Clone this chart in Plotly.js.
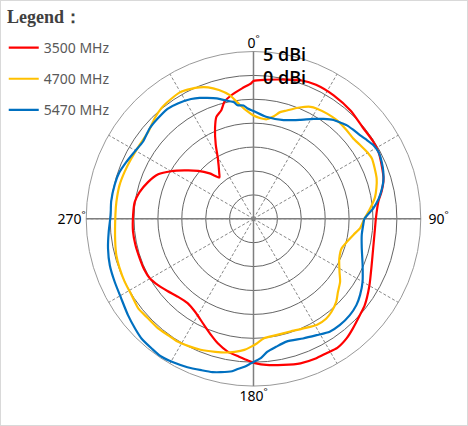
<!DOCTYPE html>
<html>
<head>
<meta charset="utf-8">
<script src="https://cdn.plot.ly/plotly-3.0.1.min.js"></script>
<style>
  body { margin: 0; background: #fff; }
  #chart { width: 468px; height: 426px; }
</style>
</head>
<body>
<div id="chart"></div>
<script>
// radiation pattern, gain in dBi, angle clockwise from top
const angles3500 = [0, 5, 13, 18.5, 25, 33, 42, 50, 57, 62, 67, 73, 78, 82, 90, 94.5, 104, 111, 120, 128,
  132, 138, 142, 147, 151.5, 156, 162, 168.5, 175, 179, 182, 186, 191, 196, 200, 205, 212, 218, 224, 230,
  235, 240, 245, 251, 257.5, 264, 272, 278, 283, 289, 295, 300, 305, 311, 316, 320.5, 323, 329.5, 333, 337,
  340, 343.5, 346, 350, 355, 359];
const gain3500 = [-1.15, -0.8, -0.1, 0.6, 0.95, 0.8, 0.4, -0.2, -0.2, -0.35, -0.9, -1.55, -2.6, -3.6, -4.4, -4.5, -4.2, -3.5, -2.0, -0.5,
  0.0, 1.0, 1.7, 2.2, 2.0, 2.0, 1.8, 1.2, 0.7, 0.25, -0.3, -1.0, -1.7, -2.9, -4.1, -5.5, -7.0, -7.6, -7.3, -6.5,
  -5.7, -5.0, -4.8, -4.8, -4.7, -4.65, -4.8, -4.9, -5.5, -6.6, -8.0, -10.1, -12.35, -14.7, -16.8, -18.8, -18.1, -15.3, -12.6, -9.4,
  -7.3, -6.3, -4.8, -3.7, -2.6, -1.65];

const angles4700 = [0, 4, 7.5, 11, 14, 17, 22.5, 27, 30, 35, 40, 46, 51, 55, 59, 63, 67, 72, 76, 80,
  85, 90, 95, 99, 104, 108.5, 115, 121.5, 126, 131, 135, 140, 144, 149, 155.5, 162, 169, 175, 178.5, 181,
  184, 188, 192, 196, 202, 207, 212, 216, 221, 227, 232, 238, 244, 250, 255, 261, 272, 277, 284, 290,
  296, 303, 310, 315.5, 320, 325, 330, 336, 341, 345, 349, 353, 356.5];
const gain4700 = [-8.4, -8.9, -9.0, -8.2, -7.0, -6.3, -4.8, -3.7, -3.4, -3.15, -3.0, -3.1, -3.2, -2.9, -2.5, -2.2, -2.5, -2.9, -3.5, -4.2,
  -5.5, -6.8, -7.6, -8.8, -9.9, -10.55, -10.2, -8.9, -7.6, -6.6, -5.5, -4.6, -4.15, -4.15, -4.8, -5.2, -5.2, -4.9, -3.9, -3.25,
  -2.5, -1.9, -1.4, -1.05, -0.45, -0.1, 0.2, 0.2, 0.4, 0.35, 0.55, 0.1, 0.0, -0.15, -0.3, -0.7, -1.1, -1.1, -1.1, -1.3,
  -1.5, -1.6, -1.4, -0.5, 0.1, 0.4, 0.6, 0.0, -0.9, -2.1, -3.6, -5.9, -7.4];

const angles5470 = [0, 7, 17, 25, 31, 35, 39, 42, 45, 48, 52, 55, 58.5, 62, 66, 70, 74, 77, 81, 85,
  90, 93, 98.5, 105, 113, 120, 125.5, 130, 135, 141, 146, 151.5, 157.5, 165, 170, 174, 177, 181, 183.5, 186,
  188, 192, 195, 199, 204, 209, 214, 218, 223, 227, 232.5, 239, 245.5, 252, 258.5, 265, 271.5, 277, 284, 289,
  294, 299.5, 305, 311, 316, 322, 327, 332.5, 336, 339, 343, 348, 350.5, 352, 355, 357];
const gain5470 = [-7.45, -8.5, -8.4, -7.15, -5.6, -4.5, -3.4, -2.9, -2.35, -2.05, -1.65, -1.15, -0.55, -0.35, -0.65, -1.1, -1.75, -2.45, -3.5, -4.85,
  -6.8, -7.0, -7.1, -6.55, -5.2, -3.65, -2.6, -1.9, -1.5, -1.35, -1.5, -2.3, -2.9, -3.4, -2.8, -2.05, -0.8, 0.24, 1.0, 1.6,
  2.2, 2.8, 3.2, 3.5, 4.0, 4.4, 4.7, 4.5, 4.3, 3.8, 3.1, 2.3, 1.9, 1.6, 1.06, 0.4, -0.1, 0.0, -0.1, -0.3,
  -0.85, -1.45, -1.8, -1.2, -1.0, -0.8, -1.15, -1.75, -2.3, -2.9, -3.65, -4.8, -5.3, -6.0, -6.2, -6.9];

const seriesNames = ["3500 MHz", "4700 MHz", "5470 MHz"];
const seriesColors = ["#ff0000", "#ffc000", "#0070c0"];

const radialTickVals = [0, 5];
const radialTickText = ["0 dBi", "5 dBi"];
const axisAngles = [0, 90, 180, 270];
const axisLabels = ["0<sup>°</sup>", "\u00a0\u00a090<sup>°</sup>", "180<sup>°</sup>", "270<sup>°</sup>"];

// close each loop by repeating the first sample
let closed = arr => arr.concat([arr[0]]);

let patterns = [[angles3500, gain3500], [angles4700, gain4700], [angles5470, gain5470]];

let data = patterns.map((p, i) => ({
    type: "scatterpolar",
    subplot: "polar2",
    theta: closed(p[0]),
    r: closed(p[1]),
    mode: "lines",
    name: seriesNames[i],
    legendgroup: "g" + i,
    line: { color: seriesColors[i], width: 2.2, shape: "spline", smoothing: 0.6 }
}));

// empty trace so the dashed-grid subplot underneath gets drawn
data.unshift({ type: "scatterpolar", subplot: "polar", r: [], theta: [], showlegend: false, hoverinfo: "skip" });

let domain = { x: [0.1842, 0.8991], y: [0.0937, 0.8791] };

let layout = {
    width: 468,
    height: 426,
    margin: { l: 0, r: 0, t: 0, b: 0 },
    paper_bgcolor: "#ffffff",
    showlegend: true,
    legend: {
        x: 0.008, y: 0.925, xanchor: "left", yanchor: "top",
        traceorder: "grouped",
        tracegroupgap: 10,
        bgcolor: "rgba(0,0,0,0)",
        font: { family: "Noto Sans", size: 14, color: "#595959" }
    },
    annotations: [{
        xref: "paper", yref: "paper", x: 0.01, y: 0.96, xanchor: "left", yanchor: "middle",
        text: "Legend：", showarrow: false,
        font: { family: "Liberation Serif", size: 18, color: "#404040", weight: "bold" }
    }],
    polar: {
        domain: domain,
        bgcolor: "#ffffff",
        radialaxis: {
            range: [-30, 5], tick0: -30, dtick: 5,
            showticklabels: false, ticks: "", showline: false,
            gridcolor: "#666666", gridwidth: 1
        },
        angularaxis: {
            rotation: 90, direction: "clockwise", dtick: 30,
            showticklabels: false, ticks: "",
            gridcolor: "#888888", gridwidth: 1, griddash: "3px,2px",
            showline: true, linecolor: "#999999", linewidth: 1
        }
    },
    polar2: {
        domain: domain,
        bgcolor: "rgba(0,0,0,0)",
        radialaxis: {
            range: [-30, 5], showgrid: false, showline: false, ticks: "",
            tickmode: "array", tickvals: radialTickVals, ticktext: radialTickText,
            angle: 90, side: "clockwise",
            tickfont: { family: "Open Sans", size: 18, color: "#000000", weight: 600 }
        },
        angularaxis: {
            rotation: 90, direction: "clockwise",
            tickmode: "array", tickvals: axisAngles, ticktext: axisLabels,
            ticks: "", showline: false,
            gridcolor: "#7f7f7f", gridwidth: 1.5,
            tickfont: { family: "Noto Sans", size: 14, color: "#000000" }
        }
    },
    shapes: [{
        type: "rect", xref: "paper", yref: "paper", x0: 0, x1: 1, y0: 0, y1: 1,
        line: { color: "#d9d9d9", width: 2 }
    }]
};

Plotly.newPlot("chart", data, layout, { displayModeBar: false, staticPlot: true });
</script>
</body>
</html>
